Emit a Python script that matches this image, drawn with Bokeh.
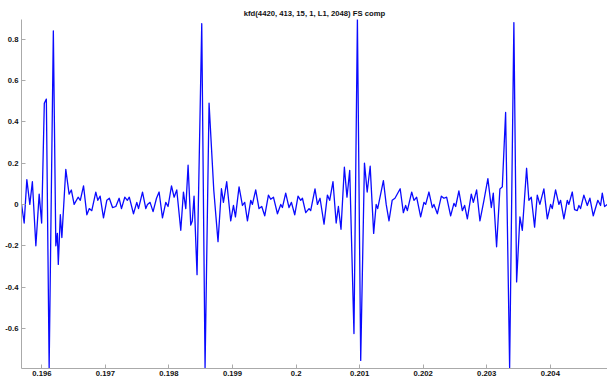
from bokeh.plotting import figure
from bokeh.models import FixedTicker, Range1d
from bokeh.embed import file_html
from bokeh.resources import INLINE

# Signal vertices: time (ms) and amplitude
t_ms = [
    195.681, 195.722, 195.764, 195.811, 195.851, 195.906, 195.958, 195.997,
    196.039, 196.071, 196.115, 196.181, 196.220, 196.244, 196.259, 196.291,
    196.315, 196.377, 196.429, 196.464, 196.508, 196.571, 196.605, 196.656,
    196.708, 196.747, 196.786, 196.849, 196.881, 196.917, 196.970, 197.022,
    197.062, 197.112, 197.164, 197.216, 197.253, 197.305, 197.345, 197.376,
    197.442, 197.494, 197.521, 197.584, 197.636, 197.662, 197.703, 197.750,
    197.804, 197.845, 197.898, 197.950, 197.986, 198.040, 198.081, 198.123,
    198.186, 198.228, 198.265, 198.301, 198.343, 198.367, 198.395, 198.442,
    198.516, 198.568, 198.631, 198.705, 198.772, 198.826, 198.857, 198.909,
    198.972, 199.015, 199.046, 199.103, 199.156, 199.192, 199.235, 199.287,
    199.313, 199.365, 199.417, 199.460, 199.507, 199.565, 199.601, 199.644,
    199.707, 199.759, 199.785, 199.837, 199.889, 199.927, 199.979, 200.031,
    200.073, 200.100, 200.152, 200.204, 200.230, 200.298, 200.336, 200.377,
    200.440, 200.493, 200.529, 200.581, 200.631, 200.666, 200.707, 200.760,
    200.801, 200.844, 200.911, 200.965, 201.017, 201.076, 201.119, 201.166,
    201.221, 201.260, 201.284, 201.374, 201.418, 201.462, 201.512, 201.556,
    201.638, 201.688, 201.724, 201.751, 201.819, 201.855, 201.897, 201.960,
    202.012, 202.039, 202.091, 202.144, 202.169, 202.223, 202.286, 202.327,
    202.369, 202.432, 202.484, 202.511, 202.562, 202.616, 202.652, 202.695,
    202.757, 202.789, 202.841, 202.893, 202.956, 203.018, 203.072, 203.103,
    203.155, 203.207, 203.245, 203.297, 203.360, 203.427, 203.470, 203.522,
    203.560, 203.627, 203.663, 203.701, 203.753, 203.795, 203.836, 203.899,
    203.953, 204.005, 204.031, 204.083, 204.135, 204.162, 204.214, 204.267,
    204.292, 204.346, 204.382, 204.424, 204.450, 204.476, 204.528, 204.582,
    204.623, 204.676, 204.748, 204.791, 204.818, 204.854, 204.896,
]
amp = [
    0.00, -0.09, 0.12, 0.00, 0.11, -0.20, 0.05, -0.09,
    0.49, 0.51, -0.79, 0.84, -0.20, -0.14, -0.29, -0.05,
    -0.16, 0.17, 0.05, 0.07, 0.00, 0.035, 0.02, 0.09,
    -0.05, -0.02, -0.03, 0.06, 0.02, 0.04, -0.065, 0.02,
    0.03, -0.015, -0.01, 0.03, -0.02, 0.035, 0.02, 0.035,
    -0.045, 0.01, -0.02, 0.06, -0.02, 0.00, 0.01, -0.035,
    0.03, 0.06, -0.065, 0.01, -0.01, 0.09, 0.035, 0.07,
    -0.125, 0.06, -0.02, 0.19, -0.10, -0.08, 0.04, -0.34,
    0.875, -0.79, 0.49, 0.07, -0.18, 0.076, 0.01, 0.11,
    -0.08, -0.005, -0.06, 0.085, -0.005, 0.01, -0.08, 0.02,
    0.00, 0.07, -0.02, -0.01, -0.055, 0.045, 0.025, 0.035,
    -0.045, 0.00, -0.015, 0.055, -0.015, 0.01, -0.05, 0.04,
    0.02, 0.03, -0.04, -0.02, -0.03, 0.075, 0.00, 0.03,
    -0.095, 0.045, 0.02, 0.11, -0.09, -0.01, -0.12, 0.18,
    0.035, 0.165, -0.625, 0.895, -0.755, 0.20, 0.06, 0.185,
    -0.14, 0.00, -0.02, 0.115, 0.00, -0.08, 0.02, 0.03,
    0.076, -0.04, -0.005, -0.03, 0.06, 0.02, 0.035, -0.06,
    0.01, 0.00, 0.06, -0.015, 0.00, -0.045, 0.04, 0.03,
    0.035, -0.055, 0.005, -0.01, 0.065, -0.03, -0.005, -0.07,
    0.05, 0.01, 0.07, -0.08, 0.02, 0.125, -0.015, 0.055,
    -0.205, 0.075, 0.085, 0.445, -0.79, 0.88, -0.375, -0.06,
    -0.125, 0.175, 0.02, 0.035, -0.11, 0.045, 0.00, 0.075,
    -0.07, 0.00, -0.02, 0.07, 0.00, 0.02, -0.07, 0.02,
    0.00, 0.06, -0.025, -0.03, -0.005, -0.02, 0.045, -0.005,
    0.03, -0.055, 0.02, -0.005, 0.055, -0.01, 0.00,
]

x_ticks = [0.196, 0.197, 0.198, 0.199, 0.200, 0.201, 0.202, 0.203, 0.204]
x_labels = ["0.196", "0.197", "0.198", "0.199", "0.2", "0.201", "0.202", "0.203", "0.204"]
y_ticks = [-0.6, -0.4, -0.2, 0.0, 0.2, 0.4, 0.6, 0.8]
y_labels = ["-0.6", "-0.4", "-0.2", "0", "0.2", "0.4", "0.6", "0.8"]

t_sec = [v / 1000.0 for v in t_ms]

p = figure(
    width=607, height=379,
    output_backend="svg", toolbar_location=None,
    x_range=Range1d(0.19568, 0.20490), y_range=Range1d(-0.794, 0.895),
    title="kfd(4420, 413, 15, 1, L1, 2048) FS comp",
    min_border_left=21, min_border_right=0, min_border_top=19, min_border_bottom=11,
)
p.title.align = "center"
p.title.text_font = "Liberation Sans"
p.title.text_font_size = "7.7px"
p.title.text_font_style = "bold"
p.title.text_color = "#111111"
p.title.standoff = 4
p.title.offset = 0

p.outline_line_color = None
p.background_fill_color = "white"
p.border_fill_color = "white"
p.xgrid.grid_line_color = None
p.ygrid.grid_line_color = None

for ax in (p.xaxis[0], p.yaxis[0]):
    ax.axis_line_color = "#aaaaaa"
    ax.major_tick_line_color = "#aaaaaa"
    ax.major_tick_in = 4
    ax.major_tick_out = 0
    ax.minor_tick_line_color = None
    ax.major_label_text_font = "Liberation Sans"
    ax.major_label_text_font_size = "7.7px"
    ax.major_label_text_font_style = "bold"
    ax.major_label_text_color = "#111111"

p.xaxis.ticker = FixedTicker(ticks=x_ticks)
p.xaxis.major_label_overrides = dict(zip(x_ticks, x_labels))
p.xaxis.major_label_standoff = 2
p.yaxis.ticker = FixedTicker(ticks=y_ticks)
p.yaxis.major_label_overrides = dict(zip(y_ticks, y_labels))
p.yaxis.major_label_standoff = 3

p.line(t_sec, amp, line_color="#0a0aff", line_width=1.3,
       line_join="round", line_cap="round")

open("out.html", "w").write(file_html(p, INLINE))
